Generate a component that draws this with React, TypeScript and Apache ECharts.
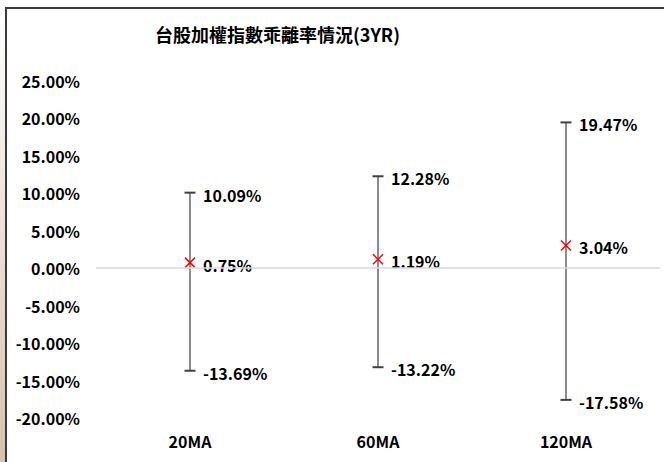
import React, { useEffect, useRef } from "react";
import * as echarts from "echarts";

const TITLE = "台股加權指數乖離率情況(3YR)";
const categories = ["20MA", "60MA", "120MA"];
const maxVals = [10.09, 12.28, 19.47];
const meanVals = [0.75, 1.19, 3.04];
const minVals = [-13.69, -13.22, -17.58];

const FONT = '"Noto Sans CJK TC", "Noto Sans", sans-serif';

export default function App() {
  const ref = useRef<HTMLDivElement>(null);
  useEffect(() => {
    if (!ref.current) return;
    const chart = echarts.init(ref.current, null, { renderer: "svg" });
    const data = categories.map((_, i) => [i, minVals[i], meanVals[i], maxVals[i]]);
    const fmt = (v: number) => v.toFixed(2) + "%";
    chart.setOption({
      animation: false,
      backgroundColor: "#ffffff",
      title: {
        text: TITLE,
        left: 150,
        top: 20,
        textStyle: { fontFamily: FONT, fontSize: 18, fontWeight: "bold", color: "#000" },
      },
      graphic: [
        {
          type: "rect",
          shape: { x: 0, y: 8, width: 5, height: 454 },
          style: {
            fill: new echarts.graphic.LinearGradient(0, 0, 0, 1, [
              { offset: 0, color: "#ffffff" },
              { offset: 1, color: "#d6c2ad" },
            ]),
          },
          silent: true,
        },
        {
          type: "line",
          shape: { x1: 6, y1: 7, x2: 6, y2: 462 },
          style: { stroke: "#3a3a3a", lineWidth: 2 },
          silent: true,
        },
        {
          type: "line",
          shape: { x1: 5, y1: 8, x2: 664, y2: 8 },
          style: { stroke: "#3a3a3a", lineWidth: 2 },
          silent: true,
        },
      ],
      grid: { left: 96, right: 4, top: 81, bottom: 44, containLabel: false },
      xAxis: {
        type: "category",
        data: categories,
        axisLine: { show: false, onZero: false },
        axisTick: { show: false },
        axisLabel: {
          margin: 15,
          fontFamily: FONT,
          fontSize: 16,
          fontWeight: "bold",
          color: "#000",
        },
        splitLine: { show: false },
      },
      yAxis: {
        type: "value",
        min: -20,
        max: 25,
        interval: 5,
        axisLine: { show: false },
        axisTick: { show: false },
        splitLine: { show: false },
        axisLabel: {
          margin: 16,
          formatter: (v: number) => v.toFixed(2) + "%",
          fontFamily: FONT,
          fontSize: 16,
          fontWeight: "bold",
          color: "#000",
        },
      },
      series: [
        {
          type: "custom",
          data,
          encode: { x: 0, y: [1, 2, 3] },
          markLine: {
            silent: true,
            symbol: "none",
            label: { show: false },
            lineStyle: { color: "#d9d9d9", width: 1.5, type: "solid" },
            data: [{ yAxis: 0 }],
          },
          renderItem: (params: any, api: any) => {
            const idx = api.value(0);
            const lo = api.coord([idx, api.value(1)]);
            const mid = api.coord([idx, api.value(2)]);
            const hi = api.coord([idx, api.value(3)]);
            const x = hi[0];
            const cap = 5.5;
            const m = 5;
            const textStyle = (t: string, y: number) => ({
              type: "text",
              x: x + 13,
              y,
              style: {
                text: t,
                fill: "#000",
                fontFamily: FONT,
                fontSize: 16,
                fontWeight: "bold",
                align: "left",
                verticalAlign: "middle",
              },
            });
            return {
              type: "group",
              children: [
                {
                  type: "line",
                  shape: { x1: x, y1: hi[1], x2: x, y2: lo[1] },
                  style: { stroke: "#8c8c8c", lineWidth: 2 },
                },
                {
                  type: "line",
                  shape: { x1: x - cap, y1: hi[1], x2: x + cap, y2: hi[1] },
                  style: { stroke: "#404040", lineWidth: 2 },
                },
                {
                  type: "line",
                  shape: { x1: x - cap, y1: lo[1], x2: x + cap, y2: lo[1] },
                  style: { stroke: "#404040", lineWidth: 2 },
                },
                {
                  type: "line",
                  shape: { x1: x - m, y1: mid[1] - m, x2: x + m, y2: mid[1] + m },
                  style: { stroke: "#ff0000", lineWidth: 1.5 },
                },
                {
                  type: "line",
                  shape: { x1: x - m, y1: mid[1] + m, x2: x + m, y2: mid[1] - m },
                  style: { stroke: "#ff0000", lineWidth: 1.5 },
                },
                textStyle(fmt(api.value(3)), hi[1] + 2),
                textStyle(fmt(api.value(2)), mid[1] + 2),
                textStyle(fmt(api.value(1)), lo[1] + 2),
              ],
            };
          },
        },
      ],
    });
    return () => chart.dispose();
  }, []);
  return (
    <div
      ref={ref}
      style={{ position: "absolute", left: 0, top: 0, width: 664, height: 462 }}
    />
  );
}
